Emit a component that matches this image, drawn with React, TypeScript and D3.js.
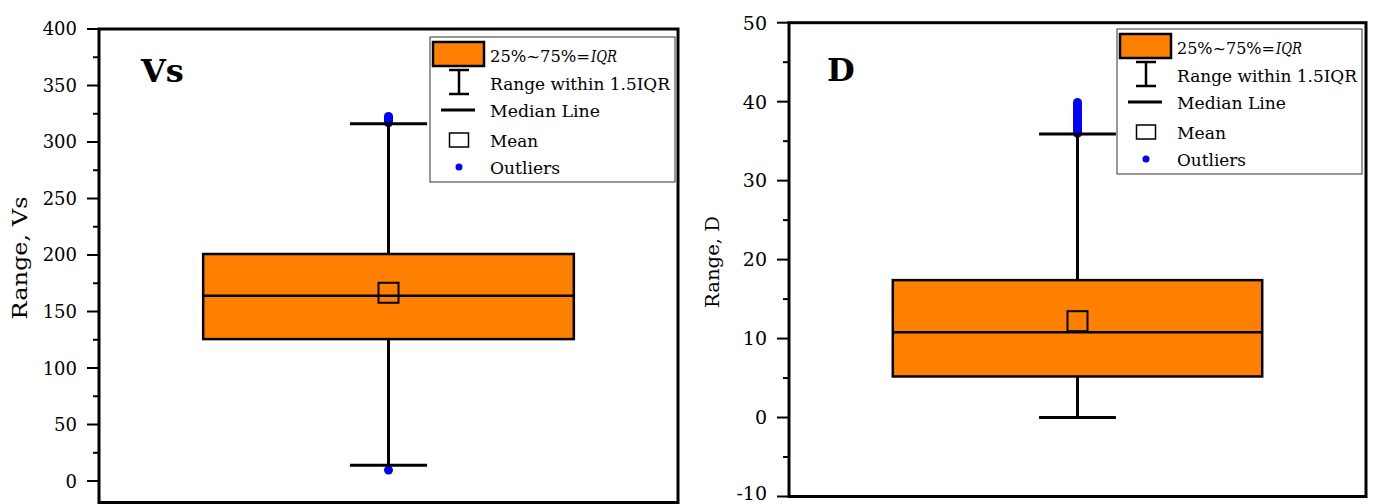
import React from "react";
import * as d3 from "d3";

// Box statistics: whisker low, Q1, median, Q3, whisker high
const vsBox = [13.9, 125.6, 163.9, 200.9, 316.1];
const dBox = [0, 5.2, 10.8, 17.4, 35.9];
const vsMean = 166.6;
const dMean = 12.2;
const vsOutliers = [9.7, 317.0, 318.5, 320.0, 321.5, 322.6];
const dOutliers = [36.0, 36.3, 36.6, 36.9, 37.2, 37.5, 37.8, 38.1, 38.4, 38.7, 39.0, 39.3, 39.6, 39.9];

const vsDomain = [-19, 400];
const dDomain = [-10, 50];
const vsTicks = [0, 50, 100, 150, 200, 250, 300, 350, 400];
const vsMinorTicks = [25, 75, 125, 175, 225, 275, 325, 375];
const dTicks = [-10, 0, 10, 20, 30, 40, 50];
const dMinorTicks = [-5, 5, 15, 25, 35, 45];

const panelTitles = ["Vs", "D"];
const axisTitles = ["Range, Vs", "Range, D"];
const legendLabels = ["Range within 1.5IQR", "Median Line", "Mean", "Outliers"];

const ORANGE = "#FF8000";
const BLUE = "#0000FF";
const FONT = "'DejaVu Serif', 'Liberation Serif', serif";
const SVG_H = 504;

type PanelProps = {
  name: string;
  axisTitle: string;
  axisTitleLen: number;
  axisTitleSize: number;
  axisTitleX: number;
  axisTitleY: number;
  box: number[];
  mean: number;
  outliers: number[];
  domain: number[];
  ticks: number[];
  minorTicks: number[];
  x0: number;
  x1: number;
  yTop: number;
  yBottom: number;
  tickFont: number;
  titleX: number;
  titleY: number;
  legendX: number;
  legendY: number;
  legendLens: number[];
};

function Legend({ x, y, lens }: { x: number; y: number; lens: number[] }) {
  const baselines = [24.5, 52.5, 80, 109.5, 136.5];
  const tx = 60;
  const iqrLen = 26;
  return (
    <g transform={`translate(${x},${y})`}>
      <rect x={0} y={0} width={245} height={145} fill="#fff" stroke="#333" strokeWidth={1} />
      <rect x={3} y={5} width={51} height={24} fill={ORANGE} stroke="#000" strokeWidth={2.5} />
      <g stroke="#000" strokeWidth={2.5}>
        <line x1={29} x2={29} y1={33} y2={57} />
        <line x1={19} x2={39} y1={33} y2={33} />
        <line x1={19} x2={39} y1={57} y2={57} />
        <line x1={11} x2={45} y1={73} y2={73} strokeWidth={3} />
      </g>
      <rect x={19.5} y={96} width={19} height={14} fill="#fff" stroke="#000" strokeWidth={1.5} />
      <circle cx={29} cy={130} r={3.5} fill={BLUE} />
      <g fontFamily={FONT} fontSize={17} fill="#000">
        <text x={tx} y={baselines[0]} textLength={lens[0] - iqrLen - 1} lengthAdjust="spacingAndGlyphs" fontSize={16}>
          25%~75%=
        </text>
        <text
          x={tx + lens[0] - iqrLen}
          y={baselines[0]}
          textLength={iqrLen}
          lengthAdjust="spacingAndGlyphs"
          fontSize={16}
          fontStyle="italic"
        >
          IQR
        </text>
        {legendLabels.map((l, i) => (
          <text key={l} x={tx} y={baselines[i + 1]} textLength={lens[i + 1]} lengthAdjust="spacingAndGlyphs">
            {l}
          </text>
        ))}
      </g>
    </g>
  );
}

function Panel(p: PanelProps) {
  const y = d3.scaleLinear().domain(p.domain).range([p.yBottom, p.yTop]);
  const x = d3.scaleBand<string>().domain([p.name]).range([p.x0, p.x1]).paddingInner(0).paddingOuter(0.281);
  const bx = x(p.name) as number;
  const bw = x.bandwidth();
  const cx = bx + bw / 2;
  const capHalf = bw * 0.104;
  const [lo, q1, med, q3, hi] = p.box;
  const meanSize = 20;

  return (
    <g>
      {/* outliers sit beneath the whisker caps */}
      {p.outliers.map((v, i) => (
        <circle key={i} cx={cx} cy={y(v)} r={4.5} fill={BLUE} />
      ))}
      <g stroke="#000" strokeWidth={3}>
        <line x1={cx} x2={cx} y1={y(lo)} y2={y(hi)} />
        <line x1={cx - capHalf} x2={cx + capHalf} y1={y(hi)} y2={y(hi)} />
        <line x1={cx - capHalf} x2={cx + capHalf} y1={y(lo)} y2={y(lo)} />
      </g>
      <rect x={bx} y={y(q3)} width={bw} height={y(q1) - y(q3)} fill={ORANGE} stroke="#000" strokeWidth={2.5} />
      <line x1={bx} x2={bx + bw} y1={y(med)} y2={y(med)} stroke="#000" strokeWidth={2.5} />
      <rect
        x={cx - meanSize / 2}
        y={y(p.mean) - meanSize / 2}
        width={meanSize}
        height={meanSize}
        fill="none"
        stroke="#000"
        strokeWidth={2}
      />

      {/* frame */}
      <rect x={p.x0} y={p.yTop} width={p.x1 - p.x0} height={p.yBottom - p.yTop} fill="none" stroke="#000" strokeWidth={3} />

      {/* y axis ticks */}
      <g stroke="#000" strokeWidth={2}>
        {p.ticks.map((t) => (
          <line key={t} x1={p.x0 - 12} x2={p.x0} y1={y(t)} y2={y(t)} />
        ))}
        {p.minorTicks.map((t) => (
          <line key={t} x1={p.x0 - 6} x2={p.x0} y1={y(t)} y2={y(t)} />
        ))}
      </g>
      <g fontFamily={FONT} fontSize={p.tickFont} fill="#000" textAnchor="end">
        {p.ticks.map((t) => (
          <text key={t} x={p.x0 - 22} y={Math.min(y(t), SVG_H - 11)} dy="0.36em">
            {t}
          </text>
        ))}
      </g>
      <text
        transform={`translate(${p.axisTitleX},${p.axisTitleY}) rotate(-90)`}
        textAnchor="middle"
        fontFamily={FONT}
        fontSize={p.axisTitleSize}
        textLength={p.axisTitleLen}
        lengthAdjust="spacingAndGlyphs"
        fill="#000"
      >
        {p.axisTitle}
      </text>
      <text x={p.titleX} y={p.titleY} fontFamily={FONT} fontWeight="bold" fontSize={32} fill="#000">
        {p.name}
      </text>
      <Legend x={p.legendX} y={p.legendY} lens={p.legendLens} />
    </g>
  );
}

export default function App() {
  return (
    <svg
      width={1375}
      height={SVG_H}
      style={{ position: "absolute", left: 0, top: 0, display: "block", background: "#fff" }}
    >
      <Panel
        name={panelTitles[0]}
        axisTitle={axisTitles[0]}
        axisTitleLen={123}
        axisTitleSize={20}
        axisTitleX={27}
        axisTitleY={258}
        box={vsBox}
        mean={vsMean}
        outliers={vsOutliers}
        domain={vsDomain}
        ticks={vsTicks}
        minorTicks={vsMinorTicks}
        x0={99}
        x1={678}
        yTop={29}
        yBottom={502.5}
        tickFont={18}
        titleX={141}
        titleY={82}
        legendX={430}
        legendY={37}
        legendLens={[127, 180, 110, 48, 70]}
      />
      <Panel
        name={panelTitles[1]}
        axisTitle={axisTitles[1]}
        axisTitleLen={92}
        axisTitleSize={19}
        axisTitleX={719}
        axisTitleY={262}
        box={dBox}
        mean={dMean}
        outliers={dOutliers}
        domain={dDomain}
        ticks={dTicks}
        minorTicks={dMinorTicks}
        x0={789}
        x1={1366}
        yTop={22.7}
        yBottom={496.5}
        tickFont={19}
        titleX={827}
        titleY={81}
        legendX={1117}
        legendY={29}
        legendLens={[125, 180, 109, 49, 69]}
      />
    </svg>
  );
}
